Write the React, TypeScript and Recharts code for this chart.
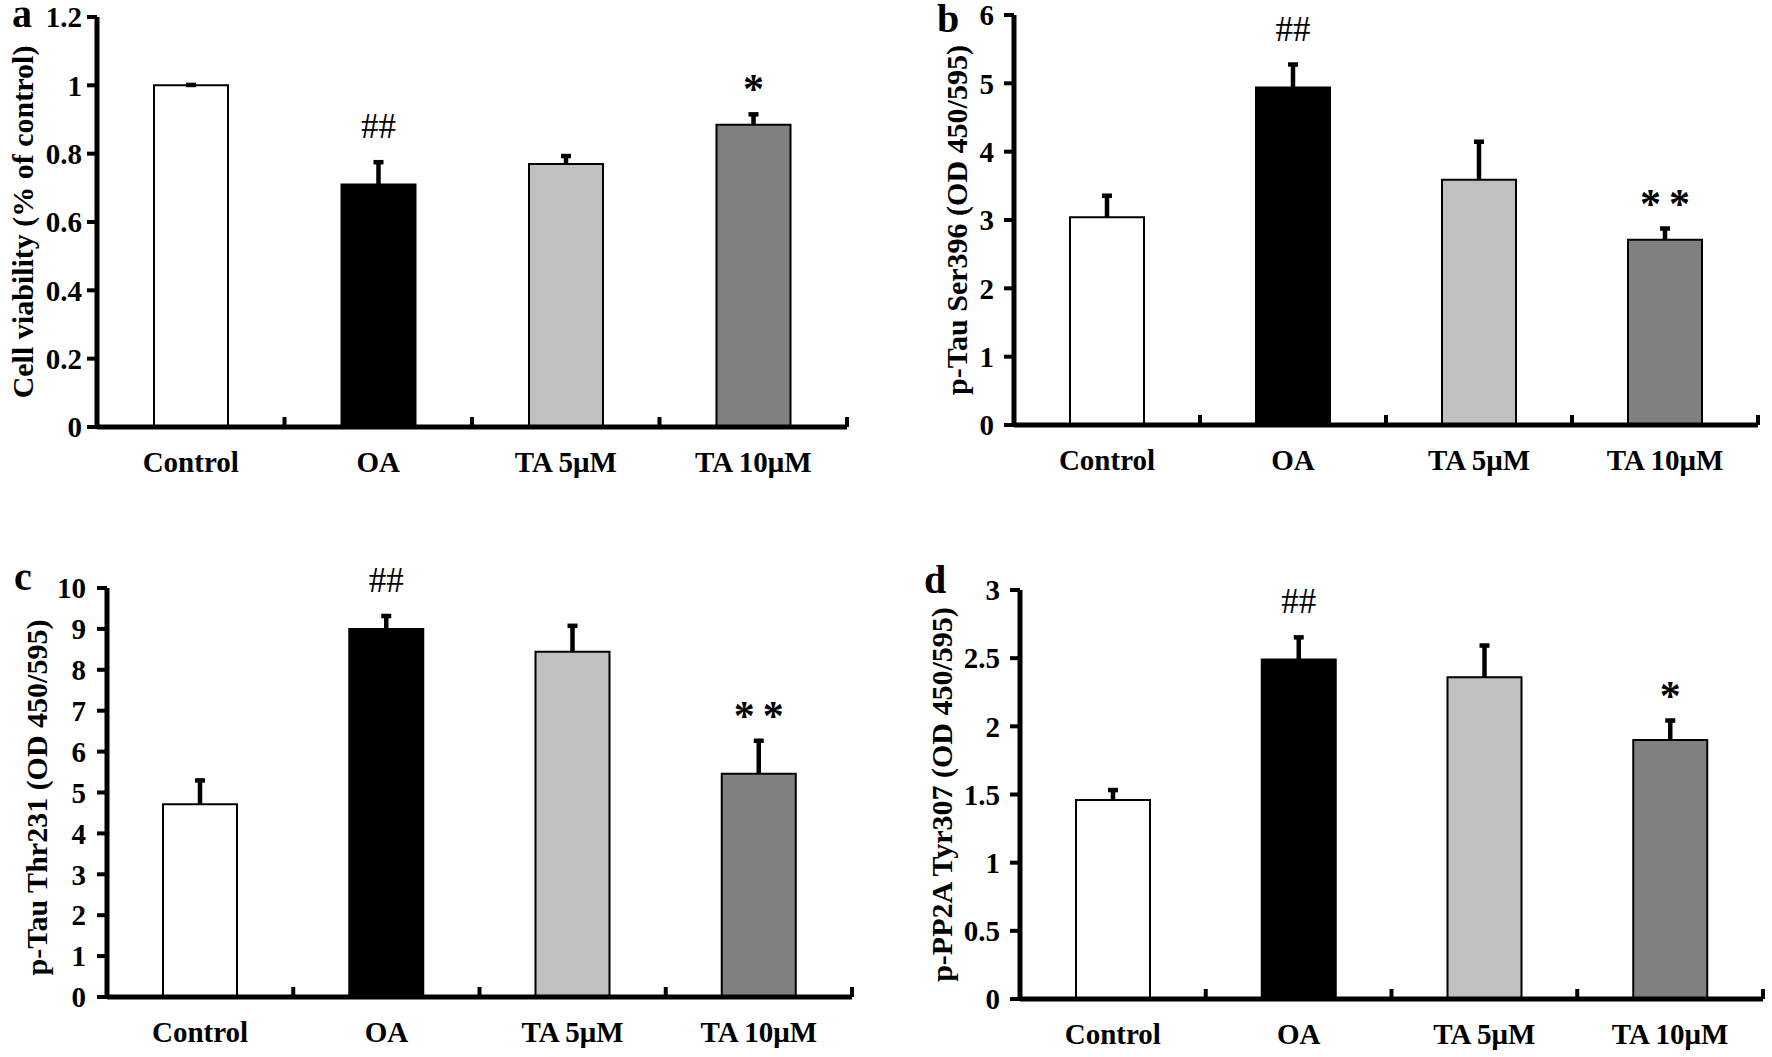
import React from 'react';
import { BarChart, Bar, XAxis, YAxis, Cell, LabelList } from 'recharts';

const SERIF = '"Liberation Serif", "Times New Roman", serif';

const categories = ['Control', 'OA', 'TA 5μM', 'TA 10μM'];
const barFills = ['#ffffff', '#000000', '#c0c0c0', '#808080'];

// a - cell viability
const viability = [1.0, 0.71, 0.77, 0.885];
const viabilityErr = [0.004, 0.068, 0.026, 0.033];
const viabilityMarks = ['', '##', '', '*'];
const viabilityTicks = [0, 0.2, 0.4, 0.6, 0.8, 1, 1.2];

// b - p-Tau Ser396
const ser396 = [3.04, 4.94, 3.59, 2.71];
const ser396Err = [0.33, 0.35, 0.57, 0.18];
const ser396Marks = ['', '##', '', '**'];
const ser396Ticks = [0, 1, 2, 3, 4, 5, 6];

// c - p-Tau Thr231
const thr231 = [4.71, 9.0, 8.44, 5.46];
const thr231Err = [0.61, 0.34, 0.66, 0.83];
const thr231Marks = ['', '##', '', '**'];
const thr231Ticks = [0, 1, 2, 3, 4, 5, 6, 7, 8, 9, 10];

// d - p-PP2A Tyr307
const tyr307 = [1.46, 2.49, 2.36, 1.9];
const tyr307Err = [0.08, 0.17, 0.24, 0.15];
const tyr307Marks = ['', '##', '', '*'];
const tyr307Ticks = [0, 0.5, 1, 1.5, 2, 2.5, 3];

function CategoryTick(props: any) {
  const { x, y, payload, band } = props;
  return (
    <g>
      <line x1={x + band / 2} x2={x + band / 2} y1={y} y2={y - 10} stroke="#000" strokeWidth={4} />
      <text x={x} y={y + 45} textAnchor="middle" fontSize={29} fontWeight="bold" fontFamily={SERIF} fill="#000">
        {payload.value}
      </text>
    </g>
  );
}

// one-sided error bar drawn as the stacked segment above the mean
function ErrorShape(props: any) {
  const { x, y, width, height } = props;
  if (x == null || y == null) return null;
  const cx = x + width / 2;
  return (
    <g>
      <line x1={cx} x2={cx} y1={y + height} y2={y} stroke="#000" strokeWidth={4.5} />
      <line x1={cx - 5} x2={cx + 5} y1={y + 1} y2={y + 1} stroke="#000" strokeWidth={4.5} />
    </g>
  );
}

function MarkLabel(props: any) {
  const vb = props.viewBox ?? props;
  const mark = props.value;
  if (!mark) return null;
  const isHash = mark.includes('#');
  const spacing = isHash ? 0 : 8;
  return (
    <text
      x={vb.x + vb.width / 2 + spacing / 2}
      y={isHash ? vb.y - 23 : vb.y - 10}
      textAnchor="middle"
      fontFamily={SERIF}
      fontSize={isHash ? 35 : 42}
      fontWeight={isHash ? 'normal' : 'bold'}
      letterSpacing={spacing}
      fill="#000"
    >
      {mark}
    </text>
  );
}

interface PanelProps {
  title: string;
  values: number[];
  errors: number[];
  marks: string[];
  ticks: number[];
  box: {
    left: number;
    top: number;
    width: number;
    height: number;
    plotLeft: number;
    plotTop: number;
    plotRight: number;
    plotBottom: number;
    tickGap: number;
    labelDx: number;
    labelDy: number;
  };
}

function Panel({ title, values, errors, marks, ticks, box }: PanelProps) {
  const band = (box.plotRight - box.plotLeft) / categories.length;
  const rows = categories.map((name, i) => ({
    name,
    value: values[i],
    err: errors[i],
    mark: marks[i],
  }));

  return (
    <div style={{ position: 'absolute', left: box.left, top: box.top, width: box.width, height: box.height }}>
      <BarChart
        width={box.width}
        height={box.height}
        data={rows}
        barSize={74}
        margin={{ top: box.plotTop, right: box.width - box.plotRight, bottom: 0, left: 0 }}
      >
        <XAxis
          dataKey="name"
          height={box.height - box.plotBottom}
          interval={0}
          axisLine={{ stroke: '#000', strokeWidth: 5 }}
          tickLine={false}
          tickSize={0}
          tickMargin={0}
          tick={(p: any) => <CategoryTick {...p} band={band} />}
        />
        <YAxis
          width={box.plotLeft}
          domain={[0, ticks[ticks.length - 1]]}
          ticks={ticks}
          interval={0}
          allowDataOverflow
          axisLine={{ stroke: '#000', strokeWidth: 5 }}
          tickLine={{ stroke: '#000', strokeWidth: 4 }}
          tickSize={10}
          tickMargin={box.tickGap}
          tick={{ fill: '#000', fontSize: 29, fontWeight: 'bold', fontFamily: SERIF }}
          label={{
            value: title,
            angle: -90,
            position: 'center',
            dx: box.labelDx,
            dy: box.labelDy,
            fill: '#000',
            style: { fontSize: 30, fontWeight: 'bold', fontFamily: SERIF, fill: '#000' },
          }}
        />
        <Bar dataKey="value" stackId="s" stroke="#000" strokeWidth={2} isAnimationActive={false}>
          {rows.map((r, i) => (
            <Cell key={r.name} fill={barFills[i]} />
          ))}
        </Bar>
        <Bar dataKey="err" stackId="s" shape={<ErrorShape />} isAnimationActive={false}>
          <LabelList dataKey="mark" content={<MarkLabel />} />
        </Bar>
      </BarChart>
    </div>
  );
}

export default function App() {
  return (
    <div style={{ position: 'absolute', left: 0, top: 0, width: 1772, height: 1057, background: '#fff' }}>
      <Panel
        title="Cell viability (% of control)"
        values={viability}
        errors={viabilityErr}
        marks={viabilityMarks}
        ticks={viabilityTicks}
        box={{ left: 0, top: 0, width: 886, height: 528, plotLeft: 97, plotTop: 17, plotRight: 847, plotBottom: 427, tickGap: 5, labelDx: -26, labelDy: 0 }}
      />
      <Panel
        title="p-Tau Ser396 (OD 450/595)"
        values={ser396}
        errors={ser396Err}
        marks={ser396Marks}
        ticks={ser396Ticks}
        box={{ left: 886, top: 0, width: 886, height: 528, plotLeft: 128, plotTop: 15, plotRight: 872, plotBottom: 425, tickGap: 10, labelDx: 6, labelDy: 0 }}
      />
      <Panel
        title="p-Tau Thr231 (OD 450/595)"
        values={thr231}
        errors={thr231Err}
        marks={thr231Marks}
        ticks={thr231Ticks}
        box={{ left: 0, top: 528, width: 886, height: 529, plotLeft: 107, plotTop: 60, plotRight: 852, plotBottom: 469, tickGap: 11, labelDx: -17, labelDy: 5 }}
      />
      <Panel
        title="p-PP2A Tyr307 (OD 450/595)"
        values={tyr307}
        errors={tyr307Err}
        marks={tyr307Marks}
        ticks={tyr307Ticks}
        box={{ left: 886, top: 528, width: 886, height: 529, plotLeft: 134, plotTop: 62, plotRight: 877, plotBottom: 471, tickGap: 10, labelDx: -12, labelDy: 0 }}
      />
      <svg width={1772} height={1057} style={{ position: 'absolute', left: 0, top: 0, pointerEvents: 'none' }}>
        <g fontFamily={SERIF} fontWeight="bold" fontSize={40} fill="#000">
          <text x={12} y={27}>a</text>
          <text x={937} y={32}>b</text>
          <text x={14} y={590}>c</text>
          <text x={924} y={593}>d</text>
        </g>
      </svg>
    </div>
  );
}
